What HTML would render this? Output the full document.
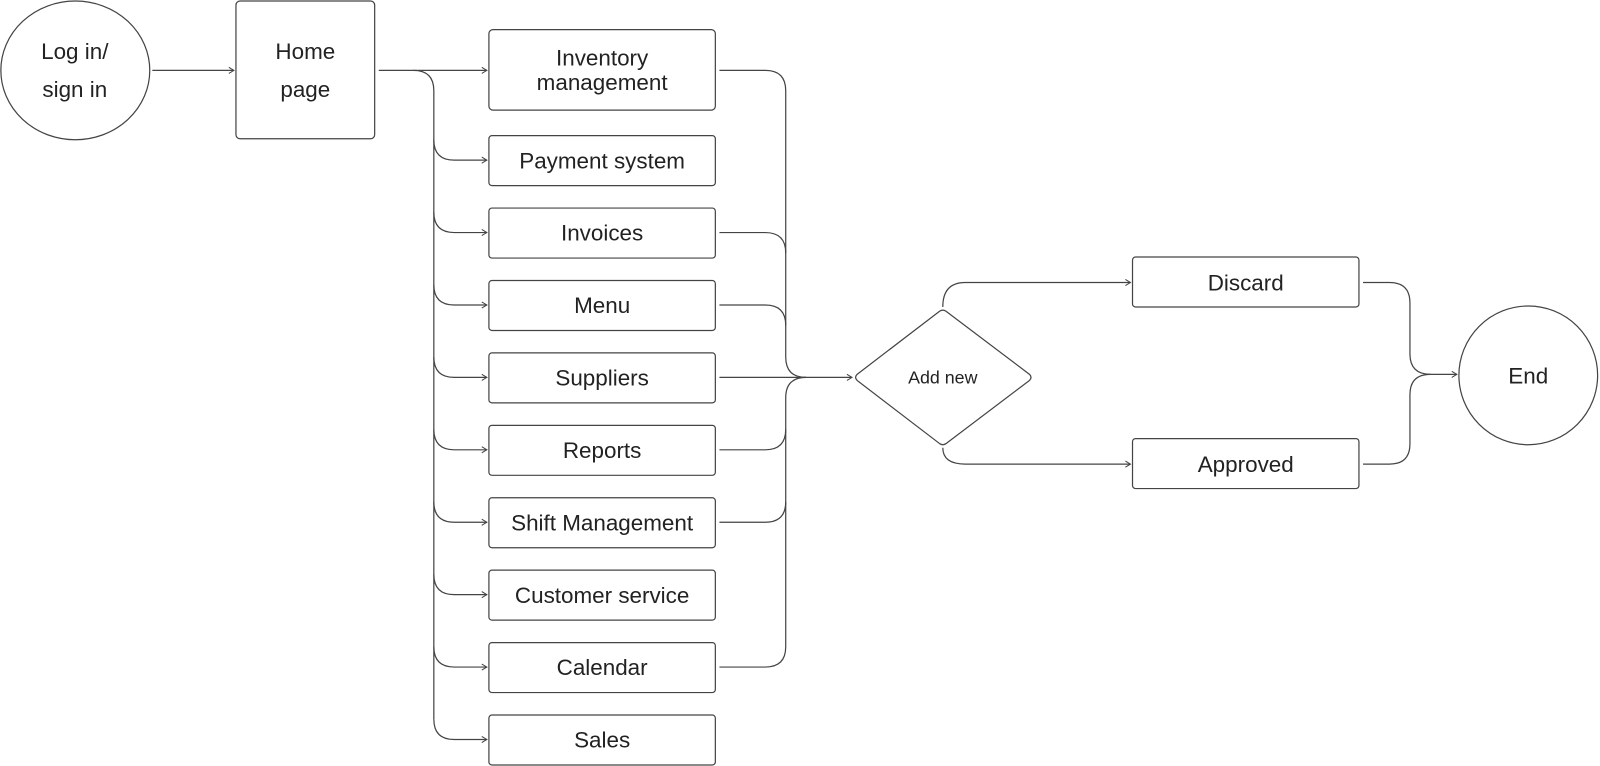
<!DOCTYPE html>
<html><head><meta charset="utf-8"><style>
html,body{margin:0;padding:0;background:#fff;}
svg{display:block}
text{font-family:"Liberation Sans",sans-serif;fill:#222;}
</style></head><body>
<svg width="1600" height="766" viewBox="0 0 1568 751" xmlns="http://www.w3.org/2000/svg">
<defs>
<marker id="a" markerWidth="8" markerHeight="8" refX="6" refY="4" orient="auto" markerUnits="userSpaceOnUse">
<path d="M1,1 L6,4 L1,7" fill="none" stroke="#444" stroke-width="1"/>
</marker>
</defs>
<g fill="none" stroke="#444" stroke-width="1.2">
<ellipse cx="73.5" cy="69" rx="73" ry="68"/>
<rect x="231" y="1" width="136" height="135" rx="4"/>
<line x1="149" y1="69" x2="229" y2="69" marker-end="url(#a)"/>
<line x1="371" y1="69" x2="477" y2="69" marker-end="url(#a)"/>
<path d="M405,69 Q425,69 425,89 L425,705"/>
<g marker-end="url(#a)">
<path d="M425,137 Q425,157 445,157 L477,157"/>
<path d="M425,208 Q425,228 445,228 L477,228"/>
<path d="M425,279 Q425,299 445,299 L477,299"/>
<path d="M425,350 Q425,370 445,370 L477,370"/>
<path d="M425,421 Q425,441 445,441 L477,441"/>
<path d="M425,492 Q425,512 445,512 L477,512"/>
<path d="M425,563 Q425,583 445,583 L477,583"/>
<path d="M425,634 Q425,654 445,654 L477,654"/>
<path d="M425,705 Q425,725 445,725 L477,725"/>
</g>
<rect x="479" y="29" width="222" height="79" rx="4"/>
<rect x="479" y="133" width="222" height="49" rx="3"/>
<rect x="479" y="204" width="222" height="49" rx="3"/>
<rect x="479" y="275" width="222" height="49" rx="3"/>
<rect x="479" y="346" width="222" height="49" rx="3"/>
<rect x="479" y="417" width="222" height="49" rx="3"/>
<rect x="479" y="488" width="222" height="49" rx="3"/>
<rect x="479" y="559" width="222" height="49" rx="3"/>
<rect x="479" y="630" width="222" height="49" rx="3"/>
<rect x="479" y="701" width="222" height="49" rx="3"/>
<path d="M705,69 L750,69 Q770,69 770,89 L770,350 Q770,370 790,370"/>
<path d="M705,228 L750,228 Q770,228 770,248"/>
<path d="M705,299 L750,299 Q770,299 770,319"/>
<path d="M705,441 L750,441 Q770,441 770,421"/>
<path d="M705,512 L750,512 Q770,512 770,492"/>
<path d="M705,654 L750,654 Q770,654 770,634 L770,390 Q770,370 790,370"/>
<line x1="705" y1="370" x2="835" y2="370" marker-end="url(#a)"/>
<path d="M840,367 L921,305 Q924,303 927,305 L1009,367 Q1012,370 1009,373 L927,435 Q924,437 921,435 L840,373 Q837,370 840,367 Z"/>
<path d="M924,301 Q924,277 946,277 L1108,277" marker-end="url(#a)"/>
<path d="M924,439 Q924,455 946,455 L1108,455" marker-end="url(#a)"/>
<rect x="1110" y="252" width="222" height="49" rx="3"/>
<rect x="1110" y="430" width="222" height="49" rx="3"/>
<path d="M1336,277 L1362,277 Q1382,277 1382,297 L1382,347 Q1382,367 1402,367"/>
<path d="M1336,455 L1362,455 Q1382,455 1382,435 L1382,387 Q1382,367 1402,367"/>
<line x1="1400" y1="367" x2="1428" y2="367" marker-end="url(#a)"/>
<circle cx="1498" cy="368" r="68"/>
</g>
<g font-size="22" text-anchor="middle">
<text x="73" y="58">Log in/</text>
<text x="73" y="95">sign in</text>
<text x="299" y="58">Home</text>
<text x="299" y="95">page</text>
<text x="590" y="64">Inventory</text>
<text x="590" y="88">management</text>
<text x="590" y="165">Payment system</text>
<text x="590" y="236">Invoices</text>
<text x="590" y="307">Menu</text>
<text x="590" y="378">Suppliers</text>
<text x="590" y="449">Reports</text>
<text x="590" y="520">Shift Management</text>
<text x="590" y="591">Customer service</text>
<text x="590" y="662">Calendar</text>
<text x="590" y="733">Sales</text>
<text x="1221" y="285">Discard</text>
<text x="1221" y="463">Approved</text>
<text x="1498" y="376">End</text>
<text x="924" y="376" font-size="17.5">Add new</text>
</g>
</svg>
</body></html>
